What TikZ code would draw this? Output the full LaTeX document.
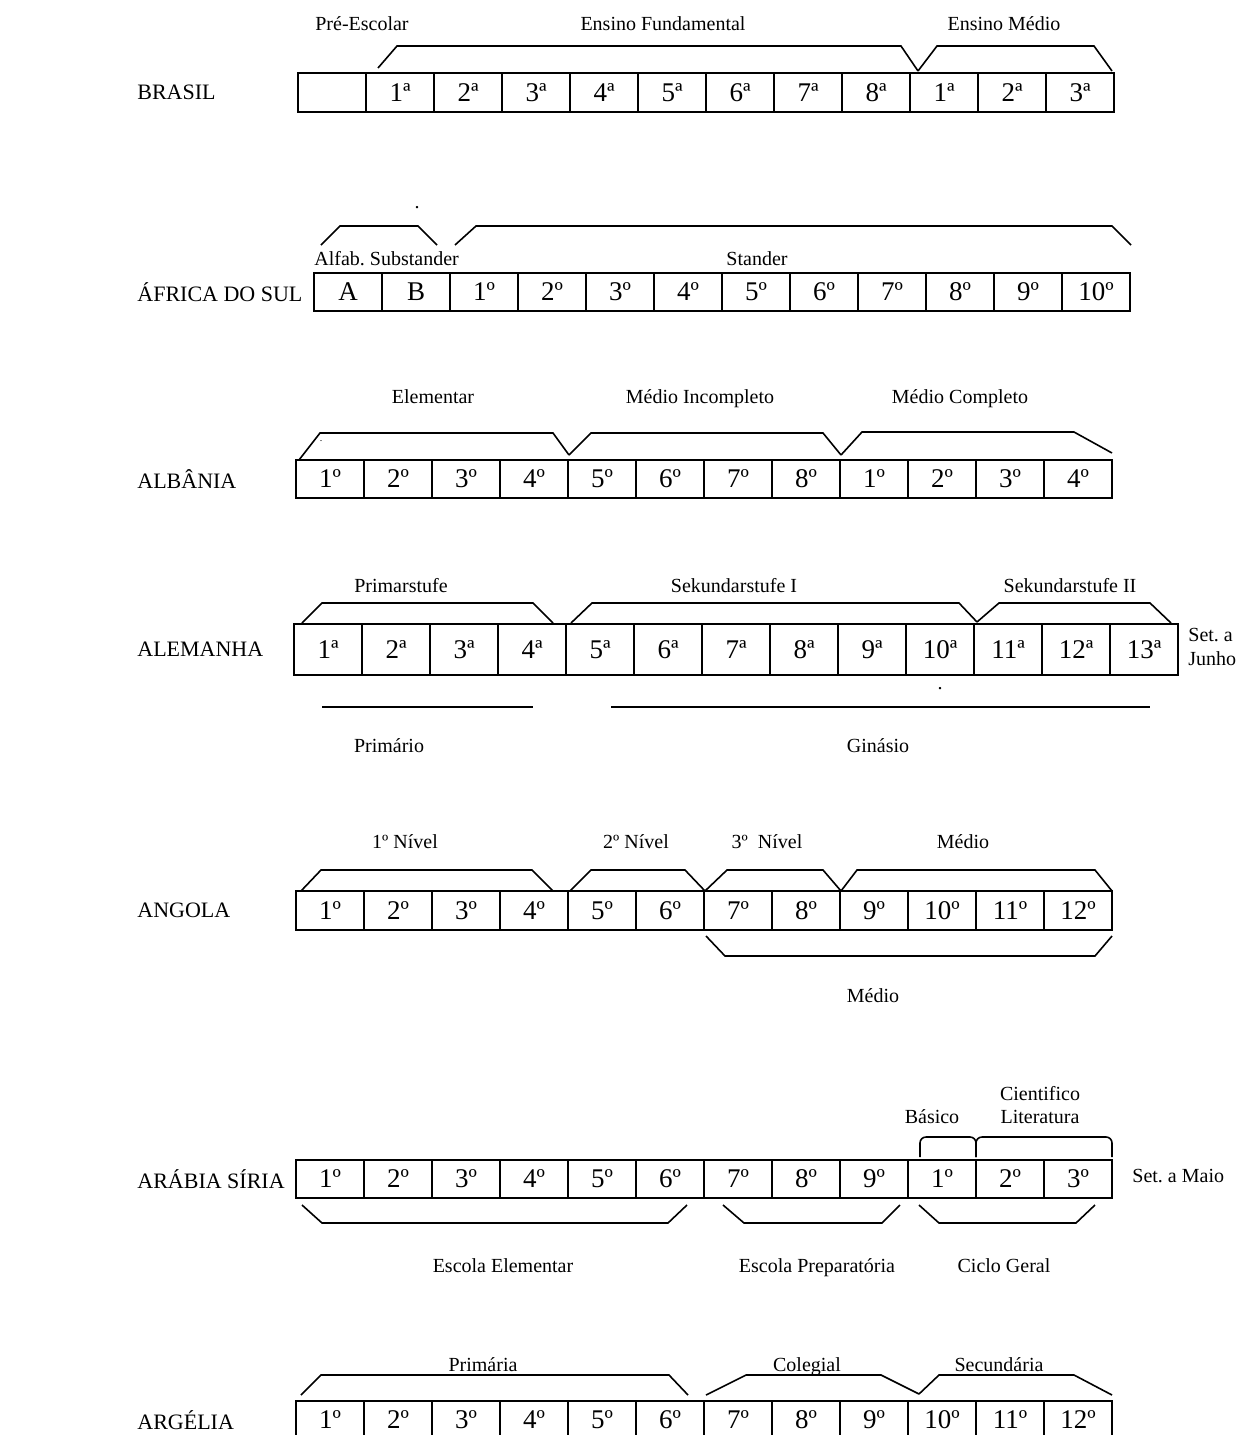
\documentclass[tikz,border=0pt]{standalone}
\usepackage{fontspec}
\setmainfont{Liberation Serif}

\begin{document}
\frenchspacing
\begin{tikzpicture}[
    x=0.5pt, y=-0.5pt,
    cell/.style={draw=black, line width=1pt, minimum width=34pt, minimum height=19pt,
                 inner sep=0pt, font=\fontsize{13.5}{15}\selectfont},
    brk/.style={draw=black, line width=0.8pt},
    country/.style={anchor=west, inner sep=0pt, font=\fontsize{11}{13}\selectfont},
    tag/.style={inner sep=0pt, text height=1.6ex, text depth=0.4ex,
                font=\fontsize{10}{12}\selectfont},
  ]
  \useasboundingbox (0,0) rectangle (1242,1435);

  %% ---------------- Brasil ----------------
  \node[country] (cBra) at (137,92) {BRASIL};
  \foreach \g [count=\i from 0] in {{},1ª,2ª,3ª,4ª,5ª,6ª,7ª,8ª,1ª,2ª,3ª}
    \node[cell, minimum height=19.5pt] (bra\i) at ({332+68*\i},92.5) {\g};
  \node[tag] (braPre) at (362,25) {Pré-Escolar};
  \node[tag] (braFun) at (663,25) {Ensino Fundamental};
  \node[tag] (braMed) at (1004,25) {Ensino Médio};
  \draw[brk] (378,68) -- (397,46) -- (901,46) -- (918,71);
  \draw[brk] (918,71) -- (937,46) -- (1094,46) -- (1112,71);

  %% ---------------- Africa do Sul ----------------
  \node[country] (cAfr) at (137,292) {ÁFRICA DO SUL};
  \foreach \g [count=\i from 0] in {A,B,1º,2º,3º,4º,5º,6º,7º,8º,9º,10º}
    \node[cell] (afr\i) at ({348+68*\i},292) {\g};
  \node[tag] (afrDot) at (417,203) {.};
  \node[tag, anchor=west] (afrSub) at (314,260) {Alfab. Substander};
  \node[tag] (afrSta) at (757,260) {Stander};
  \draw[brk] (321,245) -- (340,226) -- (418,226) -- (437,245);
  \draw[brk] (455,245) -- (476,226) -- (1112,226) -- (1131,245);

  %% ---------------- Albania ----------------
  \node[country] (cAlb) at (137,479) {ALBÂNIA};
  \foreach \g [count=\i from 0] in {1º,2º,3º,4º,5º,6º,7º,8º,1º,2º,3º,4º}
    \node[cell] (alb\i) at ({330+68*\i},479) {\g};
  \node[tag] (albEle) at (433,398) {Elementar};
  \node[tag] (albInc) at (700,398) {Médio Incompleto};
  \node[tag] (albCom) at (960,398) {Médio Completo};
  \node[tag, font=\fontsize{5}{6}\selectfont] (albDot) at (321,436) {.};
  \draw[brk] (299,460) -- (320,433) -- (553,433) -- (569,455);
  \draw[brk] (569,455) -- (591,433) -- (823,433) -- (841,455);
  \draw[brk] (841,455) -- (862,432) -- (1074,432) -- (1112,453);

  %% ---------------- Alemanha ----------------
  \node[country] (cAle) at (137,649) {ALEMANHA};
  \foreach \g [count=\i from 0] in {1ª,2ª,3ª,4ª,5ª,6ª,7ª,8ª,9ª,10ª,11ª,12ª,13ª}
    \node[cell, minimum height=25.5pt] (ale\i) at ({328+68*\i},649.5) {\g};
  \node[tag] (alePri) at (401,587) {Primarstufe};
  \node[tag] (aleSk1) at (734,587) {Sekundarstufe I};
  \node[tag] (aleSk2) at (1070,587) {Sekundarstufe II};
  \draw[brk] (302,623) -- (322,603) -- (533,603) -- (553,623);
  \draw[brk] (571,623) -- (592,603) -- (959,603) -- (977,622);
  \draw[brk] (977,622) -- (999,603) -- (1150,603) -- (1171,623);
  \node[tag, anchor=west, align=left, text height=, text depth=] (aleSet) at (1188,647) {Set. a\\Junho};
  \draw[brk] (322,707) -- (533,707);
  \draw[brk] (611,707) -- (1150,707);
  \node[tag] (aleDot) at (940,684) {.};
  \node[tag] (alePrm) at (389,747) {Primário};
  \node[tag] (aleGin) at (878,747) {Ginásio};

  %% ---------------- Angola ----------------
  \node[country] (cAng) at (137,910) {ANGOLA};
  \foreach \g [count=\i from 0] in {1º,2º,3º,4º,5º,6º,7º,8º,9º,10º,11º,12º}
    \node[cell, minimum height=19.5pt] (ang\i) at ({330+68*\i},910.5) {\g};
  \node[tag] (angN1) at (405,843) {1º Nível};
  \node[tag] (angN2) at (636,843) {2º Nível};
  \node[tag] (angN3) at (767,843) {3º\ \ Nível};
  \node[tag] (angMed) at (963,843) {Médio};
  \draw[brk] (301,891) -- (321,870) -- (532,870) -- (553,891);
  \draw[brk] (570,891) -- (591,870) -- (685,870) -- (705,891);
  \draw[brk] (705,891) -- (727,870) -- (823,870) -- (841,891);
  \draw[brk] (841,891) -- (857,870) -- (1095,870) -- (1112,891);
  \draw[brk] (706,936) -- (725,956) -- (1095,956) -- (1112,936);
  \node[tag] (angMed2) at (873,997) {Médio};

  %% ---------------- Arabia Siria ----------------
  \node[country] (cAra) at (137,1179) {ARÁBIA SÍRIA};
  \foreach \g [count=\i from 0] in {1º,2º,3º,4º,5º,6º,7º,8º,9º,1º,2º,3º}
    \node[cell] (ara\i) at ({330+68*\i},1179) {\g};
  \node[tag] (araCie) at (1040,1095) {Cientifico};
  \node[tag] (araLit) at (1040,1118) {Literatura};
  \node[tag] (araBas) at (932,1118) {Básico};
  \draw[brk, rounded corners=3pt] (920,1157) -- (920,1137) -- (976,1137) -- (976,1157);
  \draw[brk, rounded corners=3pt] (976,1157) -- (976,1137) -- (1112,1137) -- (1112,1157);
  \node[tag, anchor=west] (araSet) at (1132,1177) {Set. a Maio};
  \draw[brk] (302,1205) -- (322,1223) -- (668,1223) -- (687,1205);
  \draw[brk] (723,1205) -- (744,1223) -- (882,1223) -- (900,1205);
  \draw[brk] (919,1205) -- (939,1223) -- (1076,1223) -- (1095,1205);
  \node[tag] (araEle) at (503,1267) {Escola Elementar};
  \node[tag] (araPre) at (817,1267) {Escola Preparatória};
  \node[tag] (araCic) at (1004,1267) {Ciclo Geral};

  %% ---------------- Argelia ----------------
  \node[country] (cArg) at (137,1420) {ARGÉLIA};
  \foreach \g [count=\i from 0] in {1º,2º,3º,4º,5º,6º,7º,8º,9º,10º,11º,12º}
    \node[cell] (arg\i) at ({330+68*\i},1420) {\g};
  \node[tag] (argPri) at (483,1366) {Primária};
  \node[tag] (argCol) at (807,1366) {Colegial};
  \node[tag] (argSec) at (999,1366) {Secundária};
  \draw[brk] (301,1395) -- (321,1375) -- (669,1375) -- (688,1395);
  \draw[brk] (706,1395) -- (746,1375) -- (881,1375) -- (919,1394);
  \draw[brk] (919,1394) -- (939,1375) -- (1074,1375) -- (1112,1395);

\end{tikzpicture}
\end{document}
